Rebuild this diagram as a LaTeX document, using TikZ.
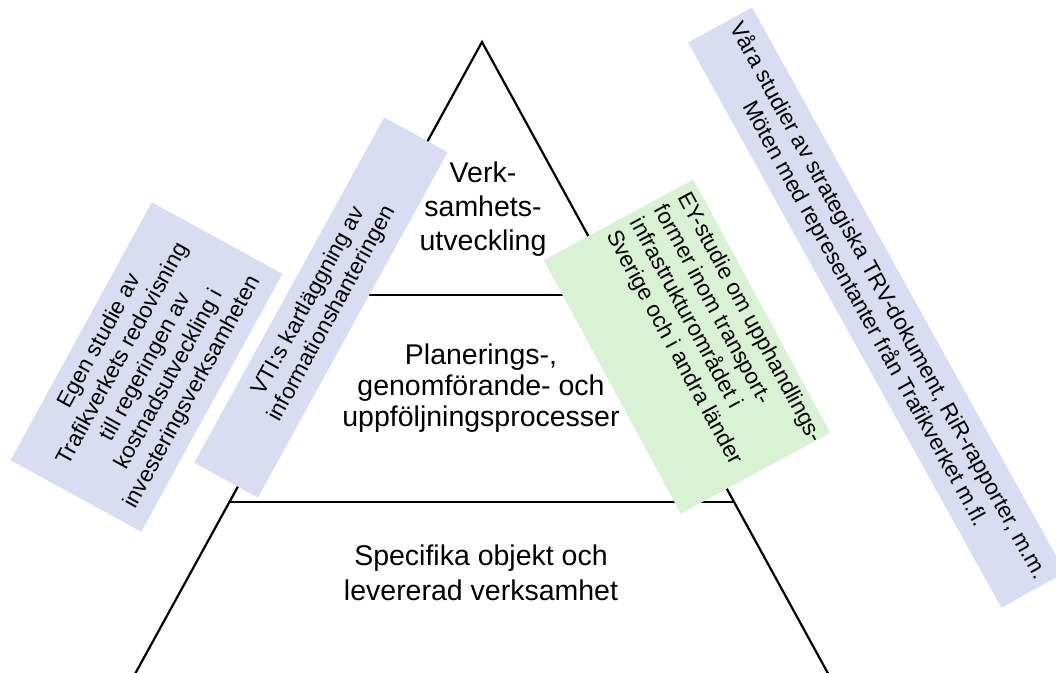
\documentclass[tikz,border=0pt]{standalone}
\usepackage{fontspec}
\setmainfont{Liberation Sans}
\usetikzlibrary{calc}
\definecolor{lav}{RGB}{218,220,241}
\definecolor{lgreen}{RGB}{218,242,212}
\begin{document}
\begin{tikzpicture}[x=1pt,y=-1pt,
  tri/.style={line width=2.2pt, black},
  lavbox/.style={fill=lav, draw=none, inner sep=0pt, align=center, font=\fontsize{22.5}{26.5}\selectfont},
  greenbox/.style={fill=lgreen, draw=none, inner sep=0pt},
  greentext/.style={align=left, inner xsep=8pt, inner ysep=6pt, anchor=north west, font=\fontsize{22.5}{27}\selectfont},
  layertext/.style={align=center, inner sep=0pt}]
\useasboundingbox (0,0) rectangle (1056,672);
\clip (0,0) rectangle (1056,672);
\fill[white] (0,0) rectangle (1056,672);
% pyramid
\coordinate (apex) at (482,42);
\coordinate (bl) at (130.6,682);
\coordinate (br) at (832.7,682);
\coordinate (l1) at (343,295);
\coordinate (r1) at (620.6,295);
\coordinate (l2) at (229.5,502);
\coordinate (r2) at (734,502);
\draw[tri, line join=miter] (bl) -- (apex) -- (br);
\draw[tri] (l1) -- (r1);
\draw[tri] (l2) -- (r2);
% layer texts
\node[layertext, font=\fontsize{28.5}{33.7}\selectfont] (top) at (483,209) {Verk-\\samhets-\\utveckling};
\node[layertext, font=\fontsize{28.5}{31}\selectfont] (mid) at (481,388.6) {Planerings-,\\genomförande- och\\uppföljningsprocesser};
\node[layertext, font=\fontsize{28.5}{34.8}\selectfont] (bot) at (481,573) {Specifika objekt och\\levererad verksamhet};
% side boxes
\node[lavbox, minimum width=294pt, minimum height=149pt, rotate=61.3] (egen) at (146.5,367)
  {Egen studie av\\Trafikverkets redovisning\\till regeringen av\\kostnadsutveckling i\\investeringsverksamheten};
\node[lavbox, minimum width=394pt, minimum height=72.5pt, rotate=61.2] (vti) at (321,307.5)
  {VTI:s kartläggning av\\informationshanteringen};
\node[greenbox, minimum width=288pt, minimum height=170pt, rotate=-61.6] (ey) at (687,346.5) {};
\node[greentext, rotate=-61.6] (eyt) at (ey.north west)
  {EY-studie om upphandlings-\\former inom transport-\\infrastrukturområdet i\\Sverige och i andra länder};
\node[lavbox, minimum width=646pt, minimum height=73pt, rotate=-61] (vara) at (876.7,307.5)
  {Våra studier av strategiska TRV-dokument, RiR-rapporter, m.m.\\Möten med representanter från Trafikverket m.fl.};
\end{tikzpicture}
\end{document}
